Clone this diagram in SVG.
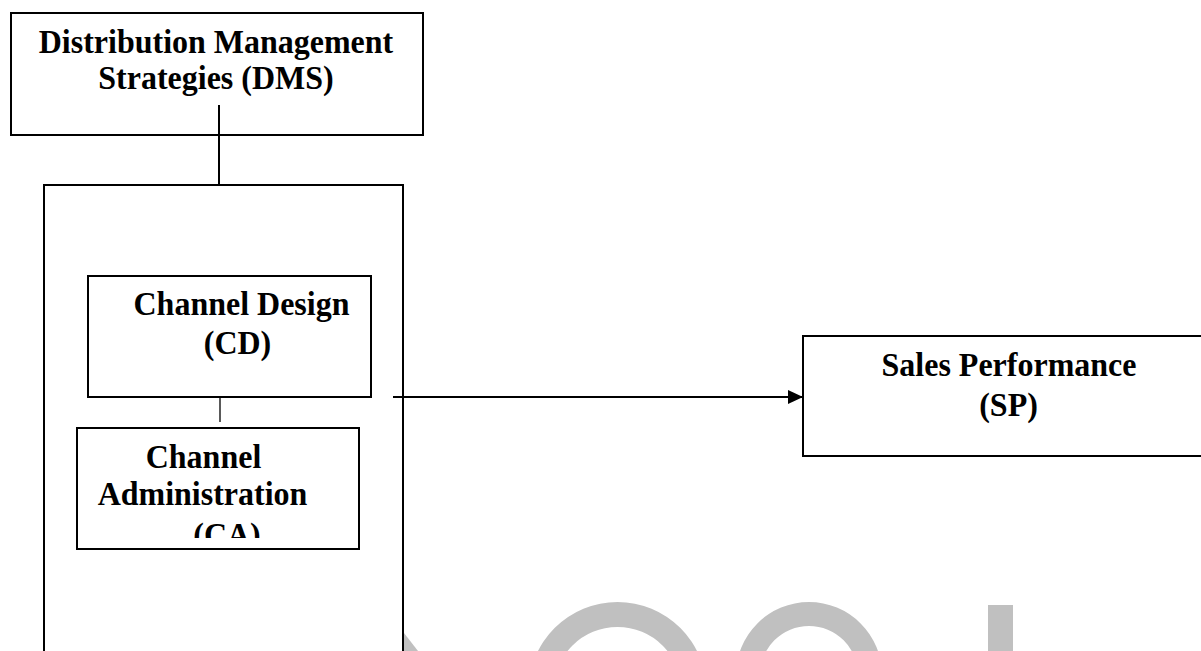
<svg xmlns="http://www.w3.org/2000/svg" width="1201" height="651" viewBox="0 0 1201 651">
<style>
  .box { fill: #ffffff; stroke: #000000; stroke-width: 2; }
  .lbl { font-family: "Liberation Serif", "Times New Roman", serif; font-weight: bold; font-size: 32px; fill: #000000; text-anchor: middle; }
  .wm { fill: #c0c0c0; }
  .conn { stroke: #000000; fill: none; }
</style>
<defs>
  <clipPath id="caClip"><rect x="77" y="428" width="282" height="110"/></clipPath>
  <marker id="arrow" markerWidth="15" markerHeight="14" refX="15" refY="7" orient="auto" markerUnits="userSpaceOnUse">
    <path d="M0,0 L15,7 L0,14 Z" fill="#000000"/>
  </marker>
</defs>
<rect x="0" y="0" width="1201" height="651" fill="#ffffff"/>

<g id="watermark">
  <polygon class="wm" points="404,633 418,651 404,651"/>
  <path class="wm" fill-rule="evenodd" d="M528.5,691 a89,89 0 1,0 178,0 a89,89 0 1,0 -178,0 Z M553.5,691 a64,64 0 1,0 128,0 a64,64 0 1,0 -128,0 Z"/>
  <path class="wm" fill-rule="evenodd" d="M736,675 a73,73 0 1,0 146,0 a73,73 0 1,0 -146,0 Z M760,675 a49,49 0 1,0 98,0 a49,49 0 1,0 -98,0 Z"/>
  <rect class="wm" x="988" y="605" width="25" height="46"/>
</g>

<g id="dms">
  <rect class="box" x="11" y="13" width="412" height="122"/>
  <text class="lbl" transform="translate(216,53) scale(1,1.07)">Distribution Management</text>
  <text class="lbl" transform="translate(216,89) scale(1,1.07)">Strategies (DMS)</text>
</g>

<g id="container">
  <rect class="box" x="44" y="185" width="359" height="520"/>
</g>

<g id="cd">
  <rect class="box" x="88" y="276" width="283" height="121"/>
  <text class="lbl" transform="translate(241.5,315) scale(1,1.07)">Channel Design</text>
  <text class="lbl" transform="translate(237.5,354) scale(1,1.07)">(CD)</text>
</g>

<g id="ca">
  <rect class="box" x="77" y="428" width="282" height="121"/>
  <g clip-path="url(#caClip)">
    <text class="lbl" transform="translate(203.5,468) scale(1,1.07)">Channel</text>
    <text class="lbl" transform="translate(202.5,505) scale(1,1.07)">Administration</text>
    <text class="lbl" transform="translate(227,546) scale(1,1.07)">(CA)</text>
  </g>
</g>

<g id="sp">
  <rect class="box" x="803" y="336" width="420" height="120"/>
  <text class="lbl" transform="translate(1009,376) scale(1,1.07)">Sales Performance</text>
  <text class="lbl" transform="translate(1008.5,416) scale(1,1.07)">(SP)</text>
</g>

<g id="connectors">
  <line class="conn" x1="219" y1="105" x2="219" y2="185" stroke-width="2"/>
  <line class="conn" x1="220" y1="397" x2="220" y2="422" stroke-width="1.3"/>
  <line class="conn" x1="393" y1="397" x2="803" y2="397" stroke-width="2" marker-end="url(#arrow)"/>
</g>
</svg>
